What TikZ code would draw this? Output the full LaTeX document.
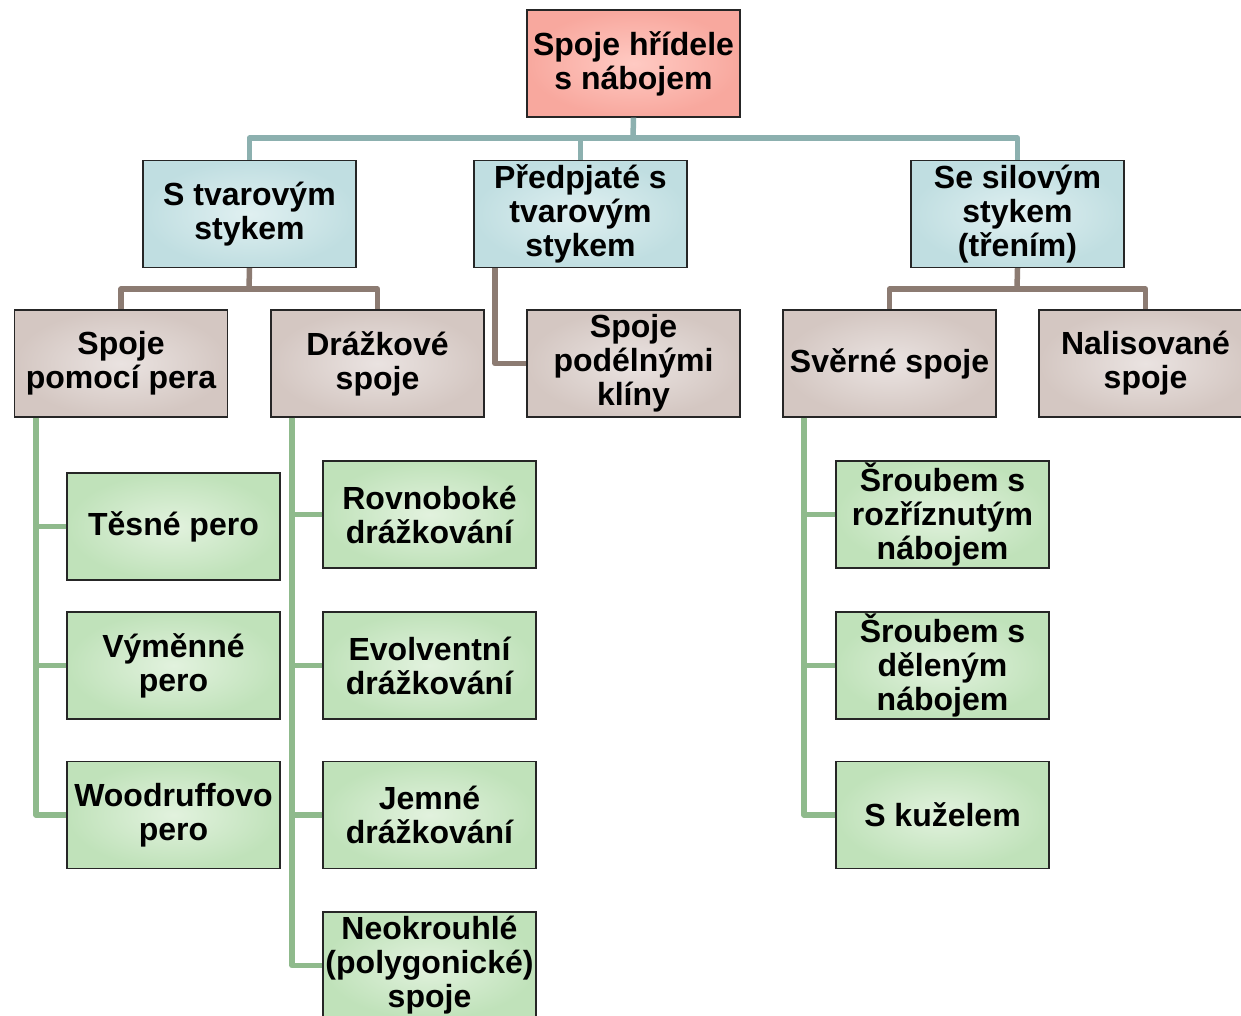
\documentclass[tikz,border=0pt]{standalone}
\usepackage{fontspec}
\setmainfont{Liberation Sans}
\begin{document}
\begin{tikzpicture}[x=1pt,y=-1pt,
  box/.style={draw=black!85, line width=1.3pt, minimum width=213pt, minimum height=107pt,
    inner sep=0pt, align=center, font=\fontsize{32}{34}\selectfont\bfseries, text=black},
  rootbox/.style={box, inner color={rgb,255:red,255;green,202;blue,195}, outer color={rgb,255:red,248;green,168;blue,158}},
  bluebox/.style={box, inner color={rgb,255:red,224;green,240;blue,241}, outer color={rgb,255:red,192;green,222;blue,225}},
  taupebox/.style={box, inner color={rgb,255:red,234;green,227;blue,225}, outer color={rgb,255:red,212;green,199;blue,194}},
  greenbox/.style={box, inner color={rgb,255:red,226;green,242;blue,222}, outer color={rgb,255:red,192;green,226;blue,186}},
  conn/.style={line width=5.5pt, line join=round},
  tealc/.style={conn, draw={rgb,255:red,140;green,176;blue,175}},
  brownc/.style={conn, draw={rgb,255:red,140;green,123;blue,114}},
  greenc/.style={conn, draw={rgb,255:red,143;green,186;blue,140}}]
\useasboundingbox (0,0) rectangle (1241,1015);
\clip (0,0) rectangle (1241,1015);
\fill[white] (0,0) rectangle (1241,1015);

% bus coordinates
\coordinate (bus1) at (633,138);
\coordinate (bus2) at (249,289);
\coordinate (bus3) at (1017,289);

% nodes
\node[rootbox] (root) at (633.5,63.5) {Spoje hřídele\\s nábojem};
\node[bluebox] (st) at (249.5,214) {S tvarovým\\stykem};
\node[bluebox] (pr) at (580.5,214) {Předpjaté s\\tvarovým\\stykem};
\node[bluebox] (ss) at (1017.5,214) {Se silovým\\stykem\\(třením)};

\node[taupebox] (sp) at (121,363.5) {Spoje\\pomocí pera};
\node[taupebox] (dr) at (377.5,363.5) {Drážkové\\spoje};
\node[taupebox] (kl) at (633.5,363.5) {Spoje\\podélnými\\klíny};
\node[taupebox] (sv) at (889.5,363.5) {Svěrné spoje};
\node[taupebox] (na) at (1145.5,363.5) {Nalisované\\spoje};

\node[greenbox] (tp) at (173.5,526.5) {Těsné pero};
\node[greenbox] (vp) at (173.5,665.5) {Výměnné\\pero};
\node[greenbox] (wp) at (173.5,815) {Woodruffovo\\pero};

\node[greenbox] (rd) at (429.5,514.5) {Rovnoboké\\drážkování};
\node[greenbox] (ed) at (429.5,665.5) {Evolventní\\drážkování};
\node[greenbox] (jd) at (429.5,815) {Jemné\\drážkování};
\node[greenbox] (ne) at (429.5,965.5) {Neokrouhlé\\(polygonické)\\spoje};

\node[greenbox] (sr) at (942.5,514.5) {Šroubem s\\rozříznutým\\nábojem};
\node[greenbox] (sd) at (942.5,665.5) {Šroubem s\\děleným\\nábojem};
\node[greenbox] (sk) at (942.5,815) {S kuželem};

% root connectors
\draw[tealc] (root.south) -- (bus1);
\draw[tealc] (st.north) |- (bus1) -| (ss.north);
\draw[tealc] (pr.north) -- (pr.north |- bus1);

% level 3 connectors
\draw[brownc] (st.south) -- (bus2);
\draw[brownc] (sp.north) |- (bus2) -| (dr.north);
\draw[brownc] (ss.south) -- (bus3);
\draw[brownc] (sv.north) |- (bus3) -| (na.north);
\draw[brownc] (pr.south -| 495,0) |- (kl.west);

% green connectors
\draw[greenc] (sp.south -| 36,0) |- (wp.west);
\draw[greenc] (tp.west) -- (tp.west -| 36,0);
\draw[greenc] (vp.west) -- (vp.west -| 36,0);

\draw[greenc] (dr.south -| 292,0) |- (ne.west);
\draw[greenc] (rd.west) -- (rd.west -| 292,0);
\draw[greenc] (ed.west) -- (ed.west -| 292,0);
\draw[greenc] (jd.west) -- (jd.west -| 292,0);

\draw[greenc] (sv.south -| 804,0) |- (sk.west);
\draw[greenc] (sr.west) -- (sr.west -| 804,0);
\draw[greenc] (sd.west) -- (sd.west -| 804,0);
\end{tikzpicture}
\end{document}
